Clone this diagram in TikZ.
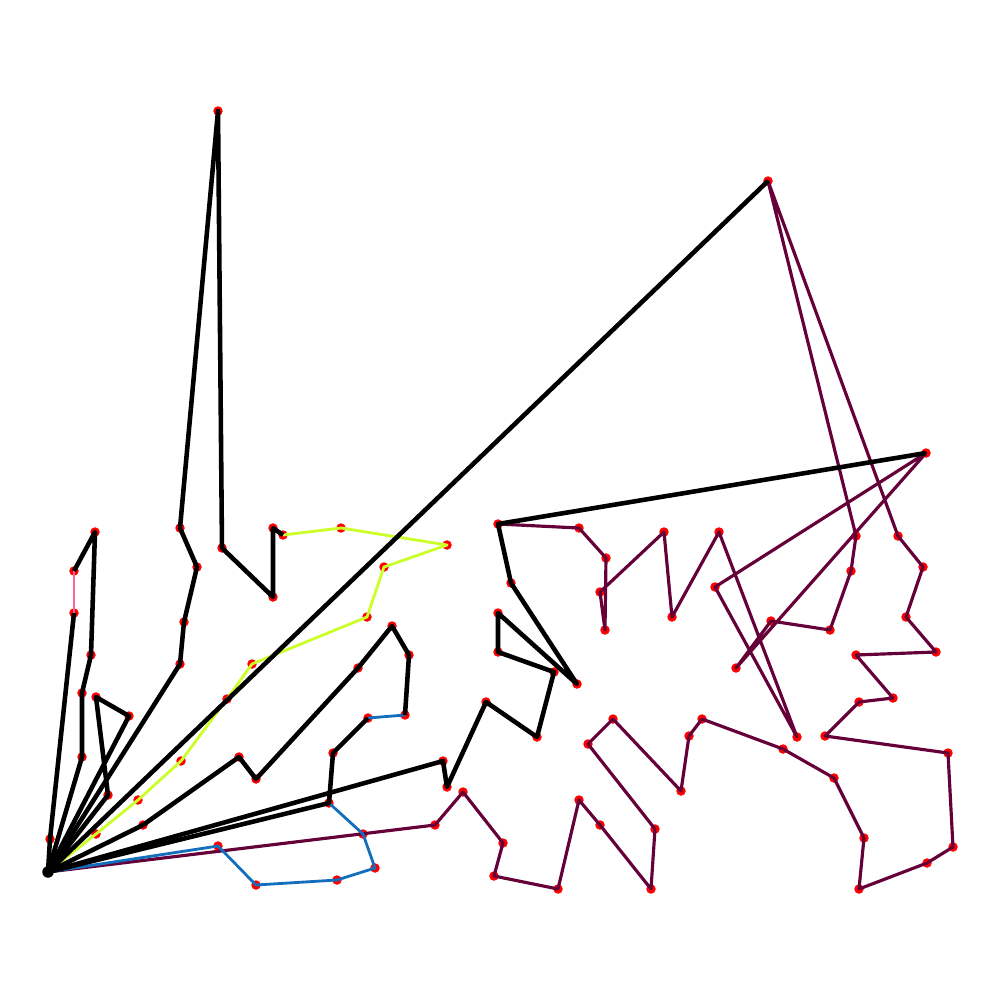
\documentclass[tikz,border=0pt]{standalone}
\usepackage{tikz}
\usetikzlibrary{positioning}
\definecolor{routeplum}{RGB}{102,0,56}
\definecolor{routelime}{RGB}{204,255,40}
\definecolor{routeblue}{RGB}{20,110,190}
\definecolor{routepink}{RGB}{255,100,150}

\begin{document}
\begin{tikzpicture}[x=0.1mm, y=-0.1mm,
    cust/.style={circle, fill=red, inner sep=0pt, minimum size=0.95mm},
    depotnode/.style={circle, fill=black, inner sep=0pt, minimum size=1.15mm},
    blackroute/.style={line width=1.3pt, black, line join=round},
    plumroute/.style={line width=0.9pt, routeplum, line join=round},
    limeroute/.style={line width=0.8pt, routelime, line join=round},
    blueroute/.style={line width=0.8pt, routeblue, line join=round},
    pinkroute/.style={line width=0.8pt, routepink}]
    \useasboundingbox (0,0) rectangle (1000,1000);

    \node[depotnode] (d) at (48,872) {};

    \node[cust] (a1) at (50,839) {};
    \node[cust] (a2) at (74,613) {};
    \node[cust] (a3) at (74,571) {};
    \node[cust] (a4) at (95,532) {};
    \node[cust] (a5) at (91,655) {};
    \node[cust] (a6) at (82,693) {};
    \node[cust] (a7) at (82,757) {};

    \node[cust] (b1) at (129,716) {};
    \node[cust] (b2) at (96,697) {};
    \node[cust] (b3) at (108,795) {};

    \node[cust] (c1) at (180,664) {};
    \node[cust] (c2) at (184,622) {};
    \node[cust] (c3) at (197,567) {};
    \node[cust] (c4) at (180,528) {};
    \node[cust] (c5) at (218,111) {};
    \node[cust] (c6) at (222,548) {};
    \node[cust] (c7) at (273,597) {};
    \node[cust] (c8) at (273,528) {};
    \node[cust] (c9) at (283,535) {};
    \node[cust] (c10) at (341,528) {};
    \node[cust] (c11) at (447,545) {};
    \node[cust] (c12) at (384,567) {};
    \node[cust] (c13) at (367,617) {};
    \node[cust] (c14) at (252,664) {};
    \node[cust] (c15) at (227,699) {};
    \node[cust] (c16) at (181,761) {};
    \node[cust] (c17) at (138,800) {};
    \node[cust] (c18) at (96,834) {};

    \node[cust] (e1) at (143,825) {};
    \node[cust] (e2) at (239,757) {};
    \node[cust] (e3) at (256,779) {};
    \node[cust] (e4) at (358,668) {};
    \node[cust] (e5) at (392,626) {};
    \node[cust] (e6) at (409,655) {};
    \node[cust] (e7) at (405,715) {};
    \node[cust] (e8) at (368,718) {};
    \node[cust] (e9) at (333,753) {};
    \node[cust] (e10) at (329,803) {};

    \node[cust] (f1) at (218,846) {};
    \node[cust] (f2) at (256,885) {};
    \node[cust] (f3) at (337,880) {};
    \node[cust] (f4) at (375,868) {};
    \node[cust] (f5) at (363,834) {};

    \node[cust] (g1) at (443,761) {};
    \node[cust] (g2) at (447,787) {};
    \node[cust] (g3) at (486,702) {};
    \node[cust] (g4) at (537,737) {};
    \node[cust] (g5) at (554,672) {};
    \node[cust] (g6) at (498,652) {};
    \node[cust] (g7) at (498,613) {};
    \node[cust] (g8) at (577,684) {};
    \node[cust] (g9) at (511,583) {};
    \node[cust] (g10) at (498,524) {};
    \node[cust] (g11) at (926,453) {};
    \node[cust] (h) at (768,181) {};

    \node[cust] (p1) at (579,528) {};
    \node[cust] (p2) at (606,558) {};
    \node[cust] (p3) at (605,630) {};
    \node[cust] (p4) at (600,592) {};
    \node[cust] (p5) at (664,532) {};
    \node[cust] (p6) at (672,617) {};
    \node[cust] (p7) at (719,532) {};
    \node[cust] (p8) at (797,737) {};
    \node[cust] (p9) at (715,587) {};
    \node[cust] (p10) at (736,668) {};
    \node[cust] (p11) at (771,621) {};
    \node[cust] (p12) at (830,630) {};
    \node[cust] (p13) at (851,571) {};
    \node[cust] (p14) at (856,536) {};
    \node[cust] (p15) at (898,536) {};
    \node[cust] (p16) at (923,567) {};
    \node[cust] (p17) at (906,617) {};
    \node[cust] (p18) at (936,652) {};
    \node[cust] (p19) at (856,655) {};
    \node[cust] (p20) at (893,698) {};
    \node[cust] (p21) at (859,702) {};
    \node[cust] (p22) at (825,736) {};
    \node[cust] (p23) at (948,753) {};
    \node[cust] (p24) at (953,847) {};
    \node[cust] (p25) at (927,863) {};
    \node[cust] (p26) at (859,889) {};
    \node[cust] (p27) at (864,838) {};
    \node[cust] (p28) at (834,778) {};
    \node[cust] (p29) at (783,749) {};
    \node[cust] (p30) at (702,719) {};
    \node[cust] (p31) at (689,736) {};
    \node[cust] (p32) at (681,791) {};
    \node[cust] (p33) at (613,719) {};
    \node[cust] (p34) at (588,744) {};
    \node[cust] (p35) at (655,829) {};
    \node[cust] (p36) at (651,889) {};
    \node[cust] (p37) at (600,825) {};
    \node[cust] (p38) at (579,800) {};
    \node[cust] (p39) at (558,889) {};
    \node[cust] (p40) at (494,876) {};
    \node[cust] (p41) at (503,843) {};
    \node[cust] (p42) at (463,792) {};
    \node[cust] (p43) at (435,825) {};

    % long route, drawn first so the others lie on top
    \draw[plumroute] (g10.center) -- (p1.center) -- (p2.center) -- (p3.center) -- (p4.center)
        -- (p5.center) -- (p6.center) -- (p7.center) -- (p8.center) -- (p9.center) -- (g11.center)
        -- (p10.center) -- (p11.center) -- (p12.center) -- (p13.center) -- (p14.center) -- (h.center)
        -- (p15.center) -- (p16.center) -- (p17.center) -- (p18.center) -- (p19.center) -- (p20.center)
        -- (p21.center) -- (p22.center) -- (p23.center) -- (p24.center) -- (p25.center) -- (p26.center)
        -- (p27.center) -- (p28.center) -- (p29.center) -- (p30.center) -- (p31.center) -- (p32.center)
        -- (p33.center) -- (p34.center) -- (p35.center) -- (p36.center) -- (p37.center) -- (p38.center)
        -- (p39.center) -- (p40.center) -- (p41.center) -- (p42.center) -- (p43.center) -- (d.center);

    \draw[blueroute] (d.center) -- (f1.center) -- (f2.center) -- (f3.center) -- (f4.center)
        -- (f5.center) -- (e10.center);
    \draw[blueroute] (e7.center) -- (e8.center);
    \draw[limeroute] (c9.center) -- (c10.center) -- (c11.center) -- (c12.center) -- (c13.center)
        -- (c14.center) -- (c15.center) -- (c16.center) -- (c17.center) -- (c18.center) -- (d.center);
    \draw[pinkroute] (a2.center) -- (a3.center);

    \draw[blackroute] (d.center) -- (a1.center) -- (a2.center);
    \draw[blackroute] (a3.center) -- (a4.center) -- (a5.center) -- (a6.center) -- (a7.center) -- (d.center);
    \draw[blackroute] (d.center) -- (b1.center) -- (b2.center) -- (b3.center) -- (d.center);
    \draw[blackroute] (d.center) -- (c1.center) -- (c2.center) -- (c3.center) -- (c4.center) -- (c5.center)
        -- (c6.center) -- (c7.center) -- (c8.center) -- (c9.center);
    \draw[blackroute] (d.center) -- (e1.center) -- (e2.center) -- (e3.center) -- (e4.center) -- (e5.center)
        -- (e6.center) -- (e7.center);
    \draw[blackroute] (e8.center) -- (e9.center) -- (e10.center) -- (d.center);
    \draw[blackroute] (d.center) -- (g1.center) -- (g2.center) -- (g3.center) -- (g4.center) -- (g5.center)
        -- (g6.center) -- (g7.center) -- (g8.center) -- (g9.center) -- (g10.center) -- (g11.center);
    \draw[blackroute] (d.center) -- (h.center);
\end{tikzpicture}
\end{document}
